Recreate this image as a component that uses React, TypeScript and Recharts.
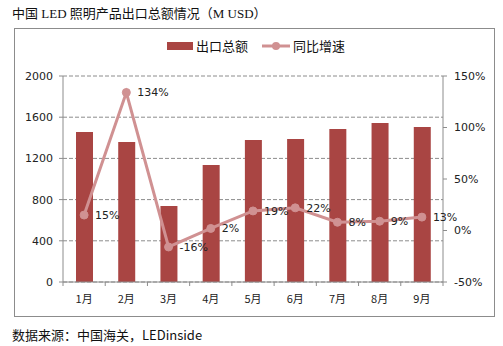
import React from 'react';
import {
  ComposedChart,
  Bar,
  Line,
  XAxis,
  YAxis,
  CartesianGrid,
  LabelList,
} from 'recharts';

const months = ['1月', '2月', '3月', '4月', '5月', '6月', '7月', '8月', '9月'];
const exportTotal = [1456, 1359, 738, 1136, 1379, 1388, 1485, 1544, 1505];
const yoyGrowth = [15, 134, -16, 2, 19, 22, 8, 9, 13];
const leftTicks = [0, 400, 800, 1200, 1600, 2000];
const rightTicks = [-50, 0, 50, 100, 150];

const data = months.map((m, i) => ({ month: m, total: exportTotal[i], yoy: yoyGrowth[i] }));

const BAR_COLOR = '#A94543';
const LINE_COLOR = '#D09192';
const AXIS_COLOR = '#8C8C8C';
const SANS = 'Tahoma, "DejaVu Sans", "Noto Sans CJK SC", sans-serif';
const CJK = '"Noto Sans CJK SC", sans-serif';

const CHART_W = 479;
const CHART_H = 287;
const PLOT_LEFT = 48;
const PLOT_RIGHT = 51;
const BAND = (CHART_W - PLOT_LEFT - PLOT_RIGHT) / months.length;

const MonthTick = (props: any) => {
  const { x, y, payload, index } = props;
  const half = BAND / 2;
  return (
    <g>
      <line x1={x - half} x2={x - half} y1={y} y2={y + 4} stroke={AXIS_COLOR} />
      {index === months.length - 1 && (
        <line x1={x + half} x2={x + half} y1={y} y2={y + 4} stroke={AXIS_COLOR} />
      )}
      <text x={x} y={y + 21} textAnchor="middle" fontSize={11} fill="#222" fontFamily={CJK}>
        {payload.value}
      </text>
    </g>
  );
};

// legend drawn as plain html so it doesn't push the plot area down
const ChartLegend = () => (
  <div
    style={{
      position: 'absolute',
      left: 167,
      top: 38,
      display: 'flex',
      alignItems: 'center',
      fontFamily: CJK,
      fontSize: 13,
      lineHeight: '16px',
      color: '#111',
      whiteSpace: 'nowrap',
    }}
  >
    <span style={{ display: 'inline-block', width: 26, height: 8, background: BAR_COLOR, marginRight: 3 }} />
    <span style={{ marginRight: 14 }}>出口总额</span>
    <svg width={28} height={10} style={{ marginRight: 3 }}>
      <line x1={0} x2={28} y1={5} y2={5} stroke={LINE_COLOR} strokeWidth={3} />
      <circle cx={14} cy={5} r={4} fill={LINE_COLOR} />
    </svg>
    <span>同比增速</span>
  </div>
);

export default function App() {
  return (
    <div style={{ position: 'absolute', left: 0, top: 0, width: 503, height: 346, background: '#fff', overflow: 'hidden' }}>
      <div
        style={{
          position: 'absolute',
          left: 12,
          top: 6,
          fontSize: 13,
          lineHeight: '16px',
          fontFamily: '"Liberation Serif", "Noto Sans CJK SC", serif',
          color: '#111',
          whiteSpace: 'nowrap',
        }}
      >
        中国 LED 照明产品出口总额情况（M USD）
      </div>
      <div
        style={{
          position: 'absolute',
          left: 14,
          top: 28,
          width: CHART_W,
          height: CHART_H,
          border: `1px solid ${AXIS_COLOR}`,
          boxSizing: 'content-box',
        }}
      >
        <ComposedChart
          width={CHART_W}
          height={CHART_H}
          data={data}
          margin={{ top: 47, right: 0, bottom: 0, left: 0 }}
        >
          <CartesianGrid
            yAxisId="left"
            horizontal
            vertical={false}
            stroke={AXIS_COLOR}
            strokeDasharray="4 2"
          />
          <XAxis
            dataKey="month"
            height={34}
            tickSize={0}
            tickMargin={0}
            tickLine={false}
            axisLine={{ stroke: AXIS_COLOR }}
            tick={<MonthTick />}
            interval={0}
          />
          <YAxis
            yAxisId="left"
            width={PLOT_LEFT}
            domain={[0, 2000]}
            ticks={leftTicks}
            tickSize={4}
            tickMargin={6}
            axisLine={{ stroke: AXIS_COLOR }}
            tickLine={{ stroke: AXIS_COLOR }}
            tick={{ fontSize: 11, fill: '#222', fontFamily: SANS }}
          />
          <YAxis
            yAxisId="right"
            orientation="right"
            width={PLOT_RIGHT}
            domain={[-50, 150]}
            ticks={rightTicks}
            tickFormatter={(v: number) => `${v}%`}
            tickSize={4}
            tickMargin={7}
            axisLine={{ stroke: AXIS_COLOR }}
            tickLine={{ stroke: AXIS_COLOR }}
            tick={{ fontSize: 11, fill: '#222', fontFamily: SANS, textAnchor: 'start' }}
          />
          <Bar
            yAxisId="left"
            dataKey="total"
            name="出口总额"
            fill={BAR_COLOR}
            barSize={17}
            isAnimationActive={false}
          />
          <Line
            yAxisId="right"
            dataKey="yoy"
            name="同比增速"
            stroke={LINE_COLOR}
            strokeWidth={3}
            dot={{ r: 4, fill: LINE_COLOR, stroke: LINE_COLOR, strokeWidth: 1 }}
            activeDot={false}
            isAnimationActive={false}
          >
            <LabelList
              dataKey="yoy"
              position="right"
              offset={11}
              formatter={(v: any) => `${v}%`}
              style={{ fontSize: 11, fill: '#222', fontFamily: SANS }}
            />
          </Line>
        </ComposedChart>
      </div>
      <ChartLegend />
      <div
        style={{
          position: 'absolute',
          left: 12,
          top: 327,
          fontSize: 13,
          lineHeight: '16px',
          fontFamily: '"Noto Sans CJK SC", "Open Sans", sans-serif',
          color: '#111',
          whiteSpace: 'nowrap',
        }}
      >
        数据来源：中国海关，LEDinside
      </div>
    </div>
  );
}
